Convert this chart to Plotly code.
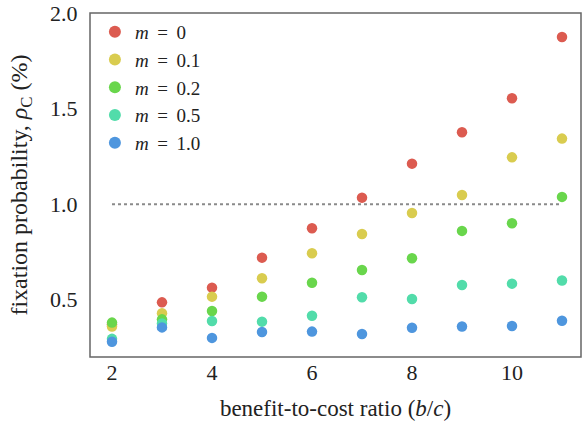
import plotly.graph_objects as go

ratio = [2, 3, 4, 5, 6, 7, 8, 9, 10, 11]
m_labels = ["0", "0.1", "0.2", "0.5", "1.0"]
rho_m0 = [0.37, 0.486, 0.563, 0.72, 0.874, 1.034, 1.212, 1.376, 1.554, 1.875]
rho_m01 = [0.36, 0.429, 0.516, 0.612, 0.743, 0.844, 0.954, 1.048, 1.245, 1.343]
rho_m02 = [0.38, 0.397, 0.441, 0.516, 0.589, 0.655, 0.717, 0.86, 0.90, 1.038]
rho_m05 = [0.295, 0.375, 0.388, 0.385, 0.416, 0.513, 0.504, 0.577, 0.584, 0.60]
rho_m10 = [0.28, 0.355, 0.30, 0.331, 0.333, 0.32, 0.353, 0.36, 0.362, 0.39]
threshold = 1.0
x_ticks = [2, 4, 6, 8, 10]
y_ticks = [0.5, 1.0, 1.5, 2.0]

series = [rho_m0, rho_m01, rho_m02, rho_m05, rho_m10]
colors = ["#dc5b50", "#d9cc4f", "#69d64c", "#52dcaa", "#4e96de"]

font = "Liberation Serif"
sp = " \u2009"
fig = go.Figure()
fig.add_trace(go.Scatter(
    x=[ratio[0], ratio[-1]], y=[threshold, threshold], mode="lines",
    line=dict(color="#8a8a8a", width=2, dash="dot"), showlegend=False,
    hoverinfo="skip"))
for lab, vals, col in zip(m_labels, series, colors):
    fig.add_trace(go.Scatter(
        x=ratio, y=vals, mode="markers", name=f"<i>m</i>{sp}={sp}{lab}",
        marker=dict(color=col, size=10.5, line=dict(width=0))))

fig.update_layout(
    width=582, height=421,
    margin=dict(l=90, r=1, t=13, b=64),
    plot_bgcolor="white", paper_bgcolor="white",
    font=dict(family=font, size=22, color="#222"),
    xaxis=dict(range=[1.56, 11.38], tickvals=x_ticks,
               showline=False, showgrid=False, zeroline=False, ticks="",
               automargin=False,
               tickfont=dict(family=font, size=22, color="#222"),
               title=dict(text="benefit-to-cost ratio (<i>b</i>/<i>c</i>)",
                          font=dict(family=font, size=23))),
    yaxis=dict(range=[0.2, 2.0005], tickvals=y_ticks, tickformat=".1f",
               showline=False, showgrid=False, zeroline=False,
               ticks="outside", ticklen=7, tickcolor="rgba(0,0,0,0)",
               automargin=False,
               tickfont=dict(family=font, size=22, color="#222"),
               title=dict(text="fixation probability, <i>ρ</i><sub>C</sub> (%)",
                          font=dict(family=font, size=24))),
    legend=dict(x=0.01, y=1.0, xanchor="left", yanchor="top",
                bgcolor="rgba(0,0,0,0)", font=dict(family=font, size=19),
                itemsizing="constant", tracegroupgap=0),
    shapes=[dict(type="rect", xref="paper", yref="paper", x0=0, y0=0, x1=1, y1=1,
                 line=dict(color="#666666", width=1.5), layer="above")],
)
fig.write_html("out.html", config={"displayModeBar": False},
               post_script="document.body.style.margin='0';document.body.style.overflow='hidden';")
